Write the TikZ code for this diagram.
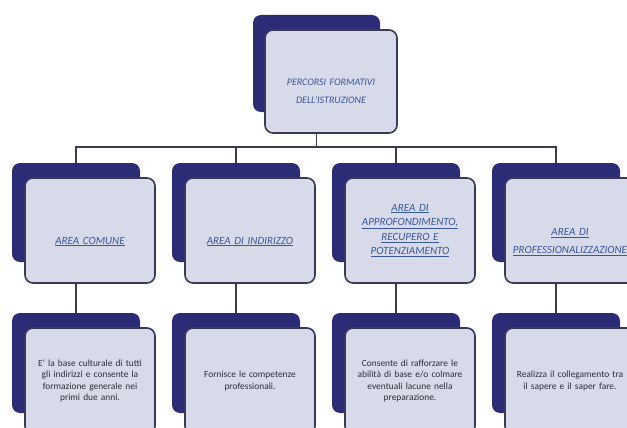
\documentclass[tikz,border=0pt]{standalone}
\usepackage{fontspec}
\setmainfont{Carlito}
\usetikzlibrary{positioning}
\definecolor{navy}{RGB}{42,44,118}
\definecolor{paleblue}{RGB}{215,218,233}
\definecolor{edgegray}{RGB}{58,58,84}
\definecolor{linkblue}{RGB}{58,88,150}
\definecolor{bodygray}{RGB}{45,45,55}
\tikzset{
    %back card, dark
    back/.style={
           rectangle,
           rounded corners=8pt,
           fill=navy,
           minimum width=128pt,
           minimum height=99pt,
           inner sep=0pt},
    %front card, pale with outline
    front/.style={
           rectangle,
           rounded corners=8pt,
           draw=edgegray, line width=1.6pt,
           fill=paleblue,
           minimum width=130pt,
           minimum height=105pt,
           text width=124pt,
           align=center,
           inner sep=0pt},
    area/.style={
           text=linkblue,
           font=\itshape\fontsize{11}{14.5}\selectfont},
    descr/.style={
           text=bodygray,
           font=\fontsize{9.4}{11.3}\selectfont},
    % connector style
    conn/.style={
           draw=edgegray,
           line width=1.3pt}
}

\begin{document}
\begin{tikzpicture}[x=1pt,y=-1pt]
\clip (0,0) rectangle (627,428);
\fill[white] (0,0) rectangle (627,428);

% top
\node[back, minimum width=127pt, minimum height=97pt](topb) at (316.5,63.5){};
\node[front, minimum width=132pt, minimum height=103pt, text=linkblue,
      font=\itshape\fontsize{10}{18}\selectfont]
      (top) at ([xshift=14.5pt,yshift=-18pt]topb.center){\\[8pt]PERCORSI FORMATIVI\\DELL'ISTRUZIONE};

% areas
\node[back](b1) at (76,212.5){};
\node[front, area](a1) at ([xshift=14pt,yshift=-18pt]b1.center){\\[15pt]\underline{AREA COMUNE}};
\node[back](b2) at (236,212.5){};
\node[front, area](a2) at ([xshift=14pt,yshift=-18pt]b2.center){\\[15pt]\underline{AREA DI INDIRIZZO}};
\node[back](b3) at (396,212.5){};
\node[front, area](a3) at ([xshift=14pt,yshift=-18pt]b3.center){\underline{AREA DI}\\\underline{APPROFONDIMENTO,}\\\underline{RECUPERO E}\\\underline{POTENZIAMENTO}};
\node[back](b4) at (556,212.5){};
\node[front, area](a4) at ([xshift=14pt,yshift=-18pt]b4.center){\\[16pt]\underline{AREA DI}\\[3.5pt]\underline{PROFESSIONALIZZAZIONE}};

% descriptions
\node[back, minimum height=100pt](c1) at (76,363){};
\node[front, descr, minimum height=106pt](d1) at ([xshift=14pt,yshift=-18pt]c1.center){E' la base culturale di tutti\\gli indirizzi e consente la\\formazione generale nei\\primi due anni.};
\node[back, minimum height=100pt](c2) at (236,363){};
\node[front, descr, minimum height=106pt](d2) at ([xshift=14pt,yshift=-18pt]c2.center){Fornisce le competenze\\professionali.};
\node[back, minimum height=100pt](c3) at (396,363){};
\node[front, descr, minimum height=106pt](d3) at ([xshift=14pt,yshift=-18pt]c3.center){Consente di rafforzare le\\abilità di base e/o colmare\\eventuali lacune nella\\preparazione.};
\node[back, minimum height=100pt](c4) at (556,363){};
\node[front, descr, minimum height=106pt](d4) at ([xshift=14pt,yshift=-18pt]c4.center){Realizza il collegamento tra\\il sapere e il saper fare.};

% connectors
\coordinate (bar) at (topb.center |- 0,147);
\draw[conn] (topb.center |- top.south) -- (bar);
\draw[conn] (bar) -| (b1.north);
\draw[conn] (bar) -| (b2.north);
\draw[conn] (bar) -| (b3.north);
\draw[conn] (bar) -| (b4.north);
\draw[conn] (b1.center |- a1.south) -- (c1.north);
\draw[conn] (b2.center |- a2.south) -- (c2.north);
\draw[conn] (b3.center |- a3.south) -- (c3.north);
\draw[conn] (b4.center |- a4.south) -- (c4.north);

\end{tikzpicture}
\end{document}
